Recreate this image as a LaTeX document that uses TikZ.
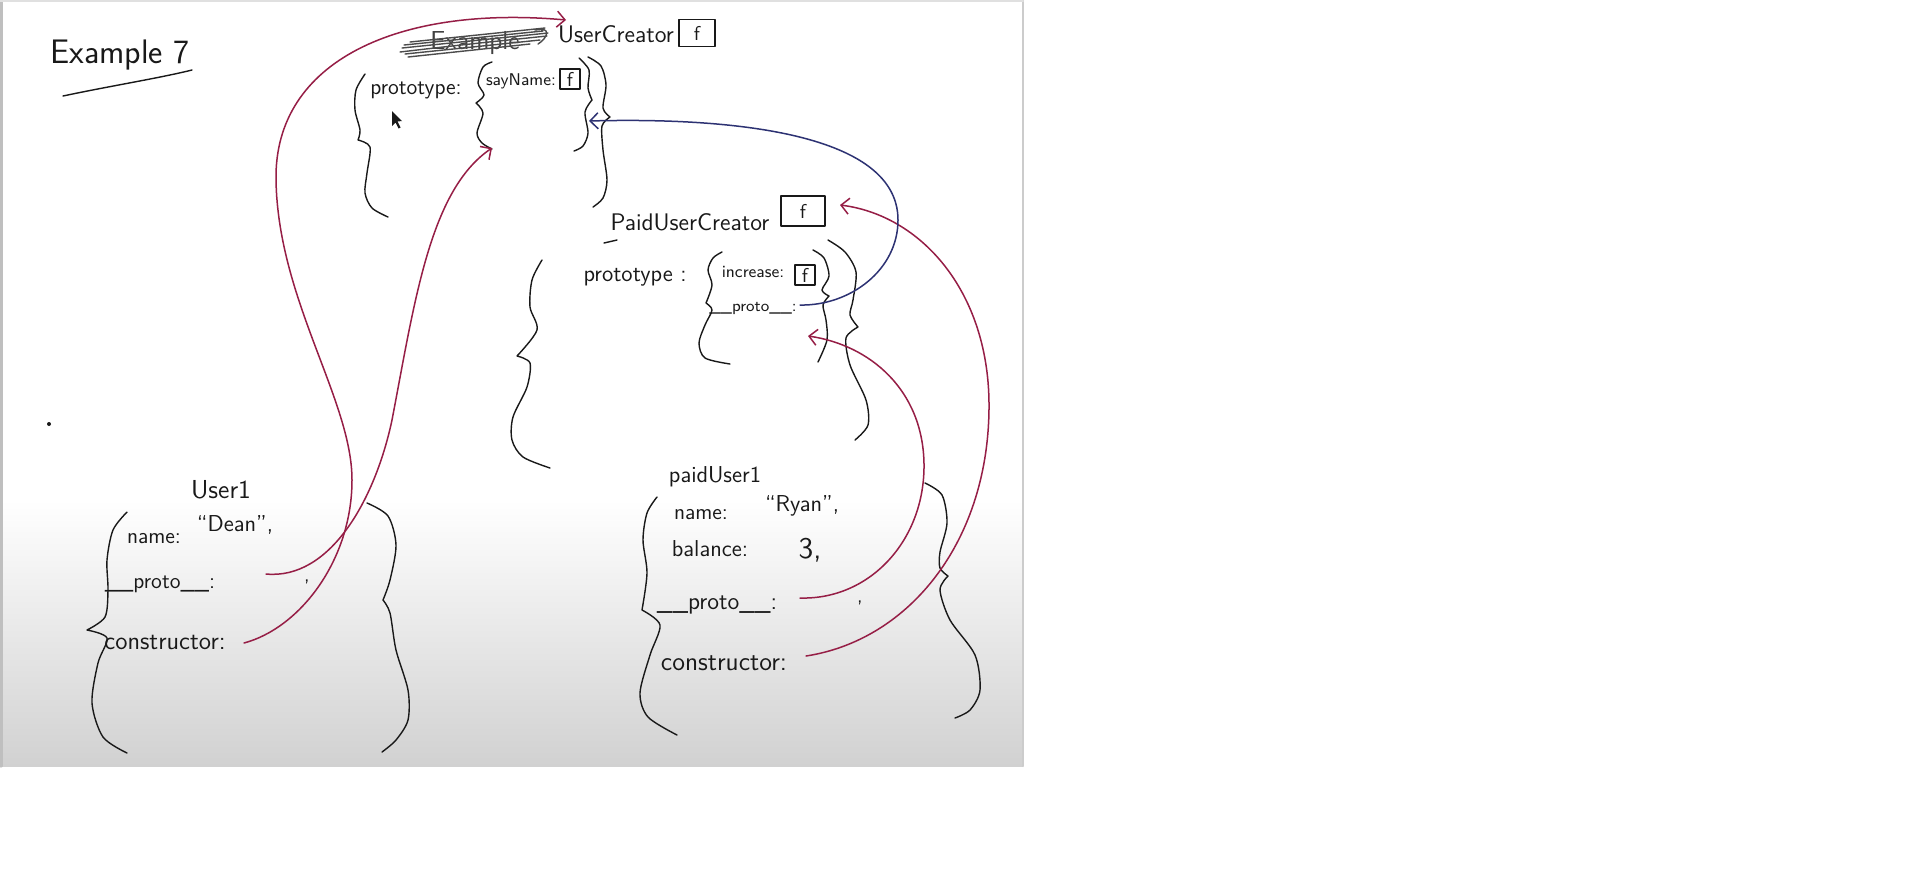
\documentclass[tikz,border=0pt]{standalone}
\usepackage{fontspec}
\usepackage{tikz}
\usetikzlibrary{arrows.meta}
\definecolor{ink}{RGB}{25,25,25}
\definecolor{penred}{RGB}{150,30,70}
\definecolor{penblue}{RGB}{45,50,115}

\begin{document}
\begin{tikzpicture}
        [x=0.5pt,y=-0.5pt,line cap=round,line join=round,
         >={Straight Barb[length=4pt,width=8pt]},
         every node/.style={font=\sffamily\fontsize{10}{12}\selectfont,inner sep=0pt,text=ink},
         pen/.style={draw=ink,line width=0.7pt},
         link/.style={->,draw=penred,line width=0.75pt},
         back/.style={->,draw=penblue,line width=0.75pt},
         fbox/.style={draw=ink,line width=0.7pt,minimum width=10pt,minimum height=10pt}]
        \useasboundingbox (0,0) rectangle (1914,880);
        \fill[white] (0,0) rectangle (1914,880);
        \shade[top color=white,bottom color=black!18] (0,500) rectangle (1023,766);
        \draw[black!25,line width=1.5pt] (1,0) -- (1,766);
        \draw[black!20,line width=1pt] (1023,0) -- (1023,766);
        \draw[black!12,line width=1pt] (0,1) -- (1023,1);

        \node (ex) at (120,55) {\fontsize{17}{20}\selectfont Example 7};
        \draw[pen] (63,96) .. controls (110,86) and (160,78) .. (192,70);
        \fill[ink] (49,424) circle (1pt);

        \node[text=black!75] (old) at (475,43) {\fontsize{13}{15}\selectfont Example};
        \draw[pen,draw=black!70] (402,48) -- (548,33) (405,54) -- (540,40) (410,42) -- (545,28)
            (400,52) .. controls (460,45) .. (547,36) (404,45) -- (543,31) (408,57) -- (530,44)
            (535,30) .. controls (552,26) and (548,38) .. (538,44);

        \node (uc) at (616,34) {\fontsize{12}{14}\selectfont UserCreator};
        \node[fbox,minimum width=18pt,minimum height=13.5pt] (ucf) at (697,33) {f};
        \node (proto) at (416,90) {\fontsize{11}{13}\selectfont prototype:};
        \node (say) at (521,81) {\fontsize{8.5}{10}\selectfont sayName:};
        \node[fbox] (sayf) at (570,79) {f};
        \fill[ink] (392,111) -- (392,126) -- (395.5,122.5) -- (398.5,128.5) -- (400.5,127.5)
            -- (397.5,121.5) -- (402,121) -- cycle;

        \node (puc) at (690,222) {\fontsize{12}{14}\selectfont PaidUserCreator};
        \node[fbox,minimum width=22pt,minimum height=15pt] (pucf) at (803,211) {f};
        \draw[pen] (604,243) -- (617,240);
        \node (proto2) at (635,277) {\fontsize{11.5}{13}\selectfont prototype :};
        \node (inc) at (753,272) {\fontsize{8.5}{10}\selectfont increase:};
        \node[fbox] (incf) at (805,275) {f};
        \node (pp) at (753,308) {\fontsize{8}{10}\selectfont \_\_proto\_\_:};

        \node (u1) at (221,490) {\fontsize{13}{15}\selectfont User1};
        \node (n1) at (154,539) {\fontsize{11}{13}\selectfont name:};
        \node (dean) at (235,525) {\fontsize{11.5}{13}\selectfont “Dean”,};
        \node (p1) at (160,584) {\fontsize{11}{13}\selectfont \_\_proto\_\_:};
        \node (k1) at (307,582) {,};
        \node (c1) at (165,642) {\fontsize{12.5}{14}\selectfont constructor:};

        \node (pu) at (715,477) {\fontsize{11.5}{13}\selectfont paidUser1};
        \node (n2) at (701,515) {\fontsize{11}{13}\selectfont name:};
        \node (ryan) at (802,506) {\fontsize{11.5}{13}\selectfont “Ryan”,};
        \node (bal) at (710,549) {\fontsize{11.5}{13}\selectfont balance:};
        \node (three) at (810,550) {\fontsize{15}{17}\selectfont 3,};
        \node (p3) at (717,605) {\fontsize{12}{14}\selectfont \_\_proto\_\_:};
        \node (k3) at (860,603) {,};
        \node (c3) at (724,663) {\fontsize{13}{15}\selectfont constructor:};

        \draw[pen] plot[smooth] coordinates {(365,74) (356,90) (355,110) (360,130) (358,140)}
            plot[smooth] coordinates {(358,140) (370,147) (367,173) (365,193) (372,208) (388,217)};
        \draw[pen] plot[smooth] coordinates {(492,62) (483,67) (478,83) (484,95) (476,103)}
            plot[smooth] coordinates {(476,103) (483,113) (477,133) (482,143) (492,149)};
        \draw[pen] plot[smooth] coordinates {(579,58) (589,70) (588,88) (592,100)}
            plot[smooth] coordinates {(592,100) (585,112) (588,133) (583,146) (574,151)};
        \draw[pen] plot[smooth] coordinates {(588,57) (601,66) (606,85) (603,108) (610,117)}
            plot[smooth] coordinates {(610,117) (602,126) (603,150) (607,180) (603,198) (593,207)};
        \draw[pen] plot[smooth] coordinates {(542,260) (532,280) (530,307) (537,330) (517,356)}
            plot[smooth] coordinates {(517,356) (530,363) (527,387) (513,417) (512,440) (523,457) (550,468)};
        \draw[pen] plot[smooth] coordinates {(722,252) (713,258) (708,270) (712,285) (706,303)}
            plot[smooth] coordinates {(706,303) (712,310) (705,325) (699,343) (705,358) (730,364)};
        \draw[pen] plot[smooth] coordinates {(813,250) (824,258) (829,276) (822,290) (829,296)}
            plot[smooth] coordinates {(829,296) (823,305) (826,320) (827,340) (818,362)};
        \draw[pen] plot[smooth] coordinates {(828,240) (845,252) (856,272) (853,300) (850,315) (858,327)}
            plot[smooth] coordinates {(858,327) (846,338) (850,365) (866,400) (868,425) (855,440)};
        \draw[pen] plot[smooth] coordinates {(127,512) (113,530) (107,560) (108,590) (105,617) (87,630)}
            plot[smooth] coordinates {(87,630) (107,638) (98,663) (92,703) (103,737) (127,753)};
        \draw[pen] plot[smooth] coordinates {(367,503) (388,516) (396,545) (390,580) (383,600)}
            plot[smooth] coordinates {(383,600) (390,613) (396,650) (408,690) (408,720) (396,740) (382,752)};
        \draw[pen] plot[smooth] coordinates {(657,497) (647,513) (643,540) (647,573) (642,610)}
            plot[smooth] coordinates {(642,610) (660,625) (650,655) (640,693) (648,717) (677,735)};
        \draw[pen] plot[smooth] coordinates {(925,483) (942,495) (947,523) (940,552) (940,568) (948,576)}
            plot[smooth] coordinates {(948,576) (940,590) (950,620) (975,655) (980,690) (970,710) (955,718)};

        \coordinate (c1-out) at (244,643);
        \coordinate (p1-out) at (266,574);
        \coordinate (c3-out) at (806,656);
        \coordinate (p3-out) at (800,598);
        \coordinate (pp-out) at (800,305);
        \coordinate (uc-in) at (566,20);
        \coordinate (ucp-in) at (492,148);
        \coordinate (ucp-back) at (589,121);
        \coordinate (pucp-in) at (808,336);
        \coordinate (puc-in) at (840,205);

        \draw[link] (c1-out) .. controls (300,628) and (352,560) .. (352,480)
            .. controls (352,400) and (278,300) .. (276,180)
            .. controls (274,60) and (400,5) .. (uc-in);
        \draw[link] (p1-out) .. controls (330,580) and (375,500) .. (392,420)
            .. controls (415,300) and (430,190) .. (ucp-in);
        \draw[link] (p3-out) .. controls (870,600) and (925,540) .. (924,464)
            .. controls (923,390) and (870,345) .. (pucp-in);
        \draw[link] (c3-out) .. controls (910,640) and (990,540) .. (989,403)
            .. controls (988,290) and (920,215) .. (puc-in);
        \draw[back] (pp-out) .. controls (850,306) and (898,270) .. (898,220)
            .. controls (898,125) and (700,118) .. (ucp-back);
\end{tikzpicture}
\end{document}
